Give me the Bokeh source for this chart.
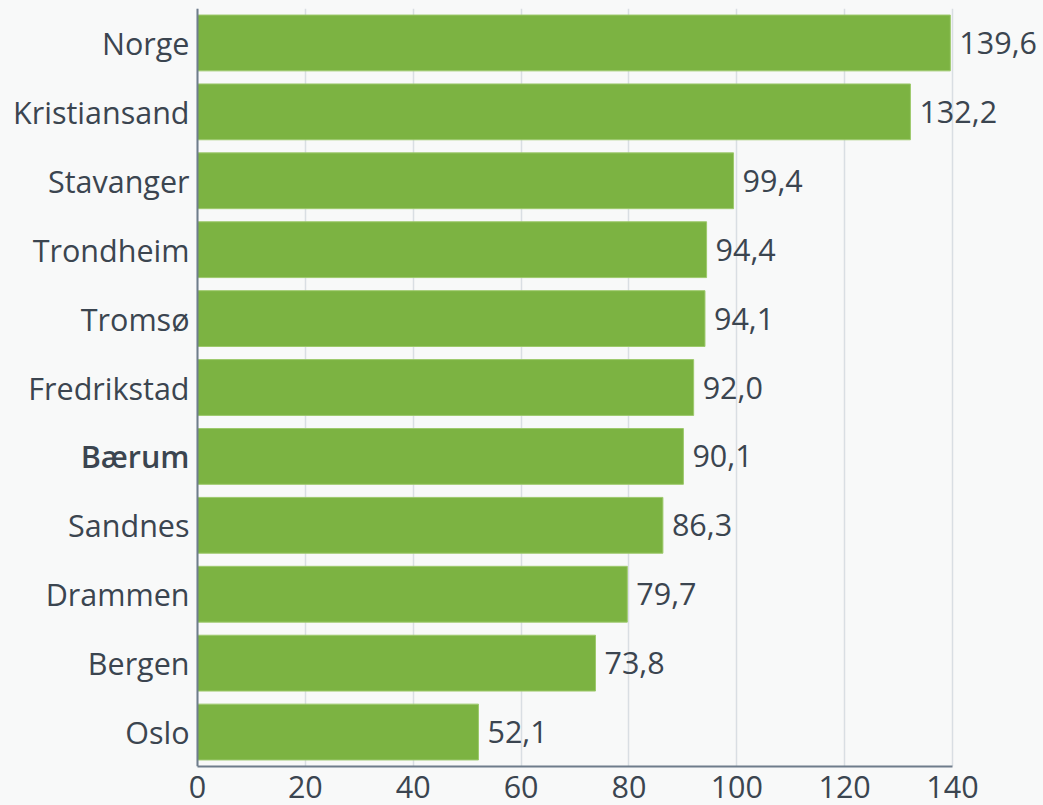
from bokeh.plotting import figure
from bokeh.models import ColumnDataSource, FixedTicker, FactorRange, Range1d, Span
from bokeh.core.properties import value
from bokeh.embed import file_html
from bokeh.resources import INLINE

categories = ["Norge", "Kristiansand", "Stavanger", "Trondheim", "Tromsø", "Fredrikstad",
              "Bærum", "Sandnes", "Drammen", "Bergen", "Oslo"]
values = [139.6, 132.2, 99.4, 94.4, 94.1, 92.0, 90.1, 86.3, 79.7, 73.8, 52.1]
value_labels = ["139,6", "132,2", "99,4", "94,4", "94,1", "92,0", "90,1", "86,3", "79,7", "73,8", "52,1"]
x_ticks = [0, 20, 40, 60, 80, 100, 120, 140]

BG = "#f8f9f9"
TXT = "#3b4550"
FONT = "Open Sans"
FS = "30.5px"
AXIS_C = "#6f7d8c"

W, H = 1043, 805
LEFT_PX, RIGHT_PX = 197, 952          # pixel positions of 0 and 140
px_per = (RIGHT_PX - LEFT_PX) / 140.0

normal = [c for c in categories if c != "Bærum"]
bold = [c for c in categories if c == "Bærum"]

src = ColumnDataSource(dict(cat=categories, val=values, lab=value_labels))
src_n = ColumnDataSource(dict(cat=normal, zero=[0] * len(normal)))
src_b = ColumnDataSource(dict(cat=bold, zero=[0] * len(bold)))

p = figure(width=W, height=H, output_backend="svg", toolbar_location=None,
           y_range=FactorRange(*list(reversed(categories))),
           x_range=Range1d(-LEFT_PX / px_per, (W - LEFT_PX) / px_per),
           background_fill_color=BG, border_fill_color=BG,
           min_border_left=0, min_border_right=0, min_border_top=8, min_border_bottom=39)
p.outline_line_color = None

p.hbar(y="cat", right="val", left=0, height=0.81, source=src,
       fill_color="#7cb342", line_color="#9dc96c", line_width=1)

p.text(x="val", y="cat", text="lab", source=src, x_offset=9,
       text_baseline="middle", text_align="left", text_font=value(FONT),
       text_font_size=FS, text_color=TXT)
p.text(x="zero", y="cat", text="cat", source=src_n, x_offset=-8,
       text_baseline="middle", text_align="right", text_font=value(FONT),
       text_font_size=FS, text_color=TXT)
p.text(x="zero", y="cat", text="cat", source=src_b, x_offset=-8,
       text_baseline="middle", text_align="right",
       text_font=value("'Open Sans SemiBold', 'Open Sans Semibold', 'Open Sans'"),
       text_font_size=FS, text_color=TXT)

p.xaxis.ticker = FixedTicker(ticks=x_ticks)
p.xaxis.bounds = (0, 140)
p.xaxis.major_label_text_font = FONT
p.xaxis.major_label_text_font_size = FS
p.xaxis.major_label_text_color = TXT
p.xaxis.major_tick_line_color = None
p.xaxis.minor_tick_line_color = None
p.xaxis.major_label_standoff = 3
p.xaxis.axis_line_color = AXIS_C
p.xaxis.axis_line_width = 2

p.yaxis.visible = False
p.add_layout(Span(location=0, dimension="height", line_color=AXIS_C, line_width=2))

p.xgrid.grid_line_color = "#d9dee3"
p.xgrid.grid_line_width = 1.5
p.xgrid.bounds = (0, 140)
p.ygrid.grid_line_color = None

html = file_html(p, INLINE)
html = html.replace("<head>", "<head><style>body{background:%s;}</style>" % BG, 1)
open("out.html", "w").write(html)
